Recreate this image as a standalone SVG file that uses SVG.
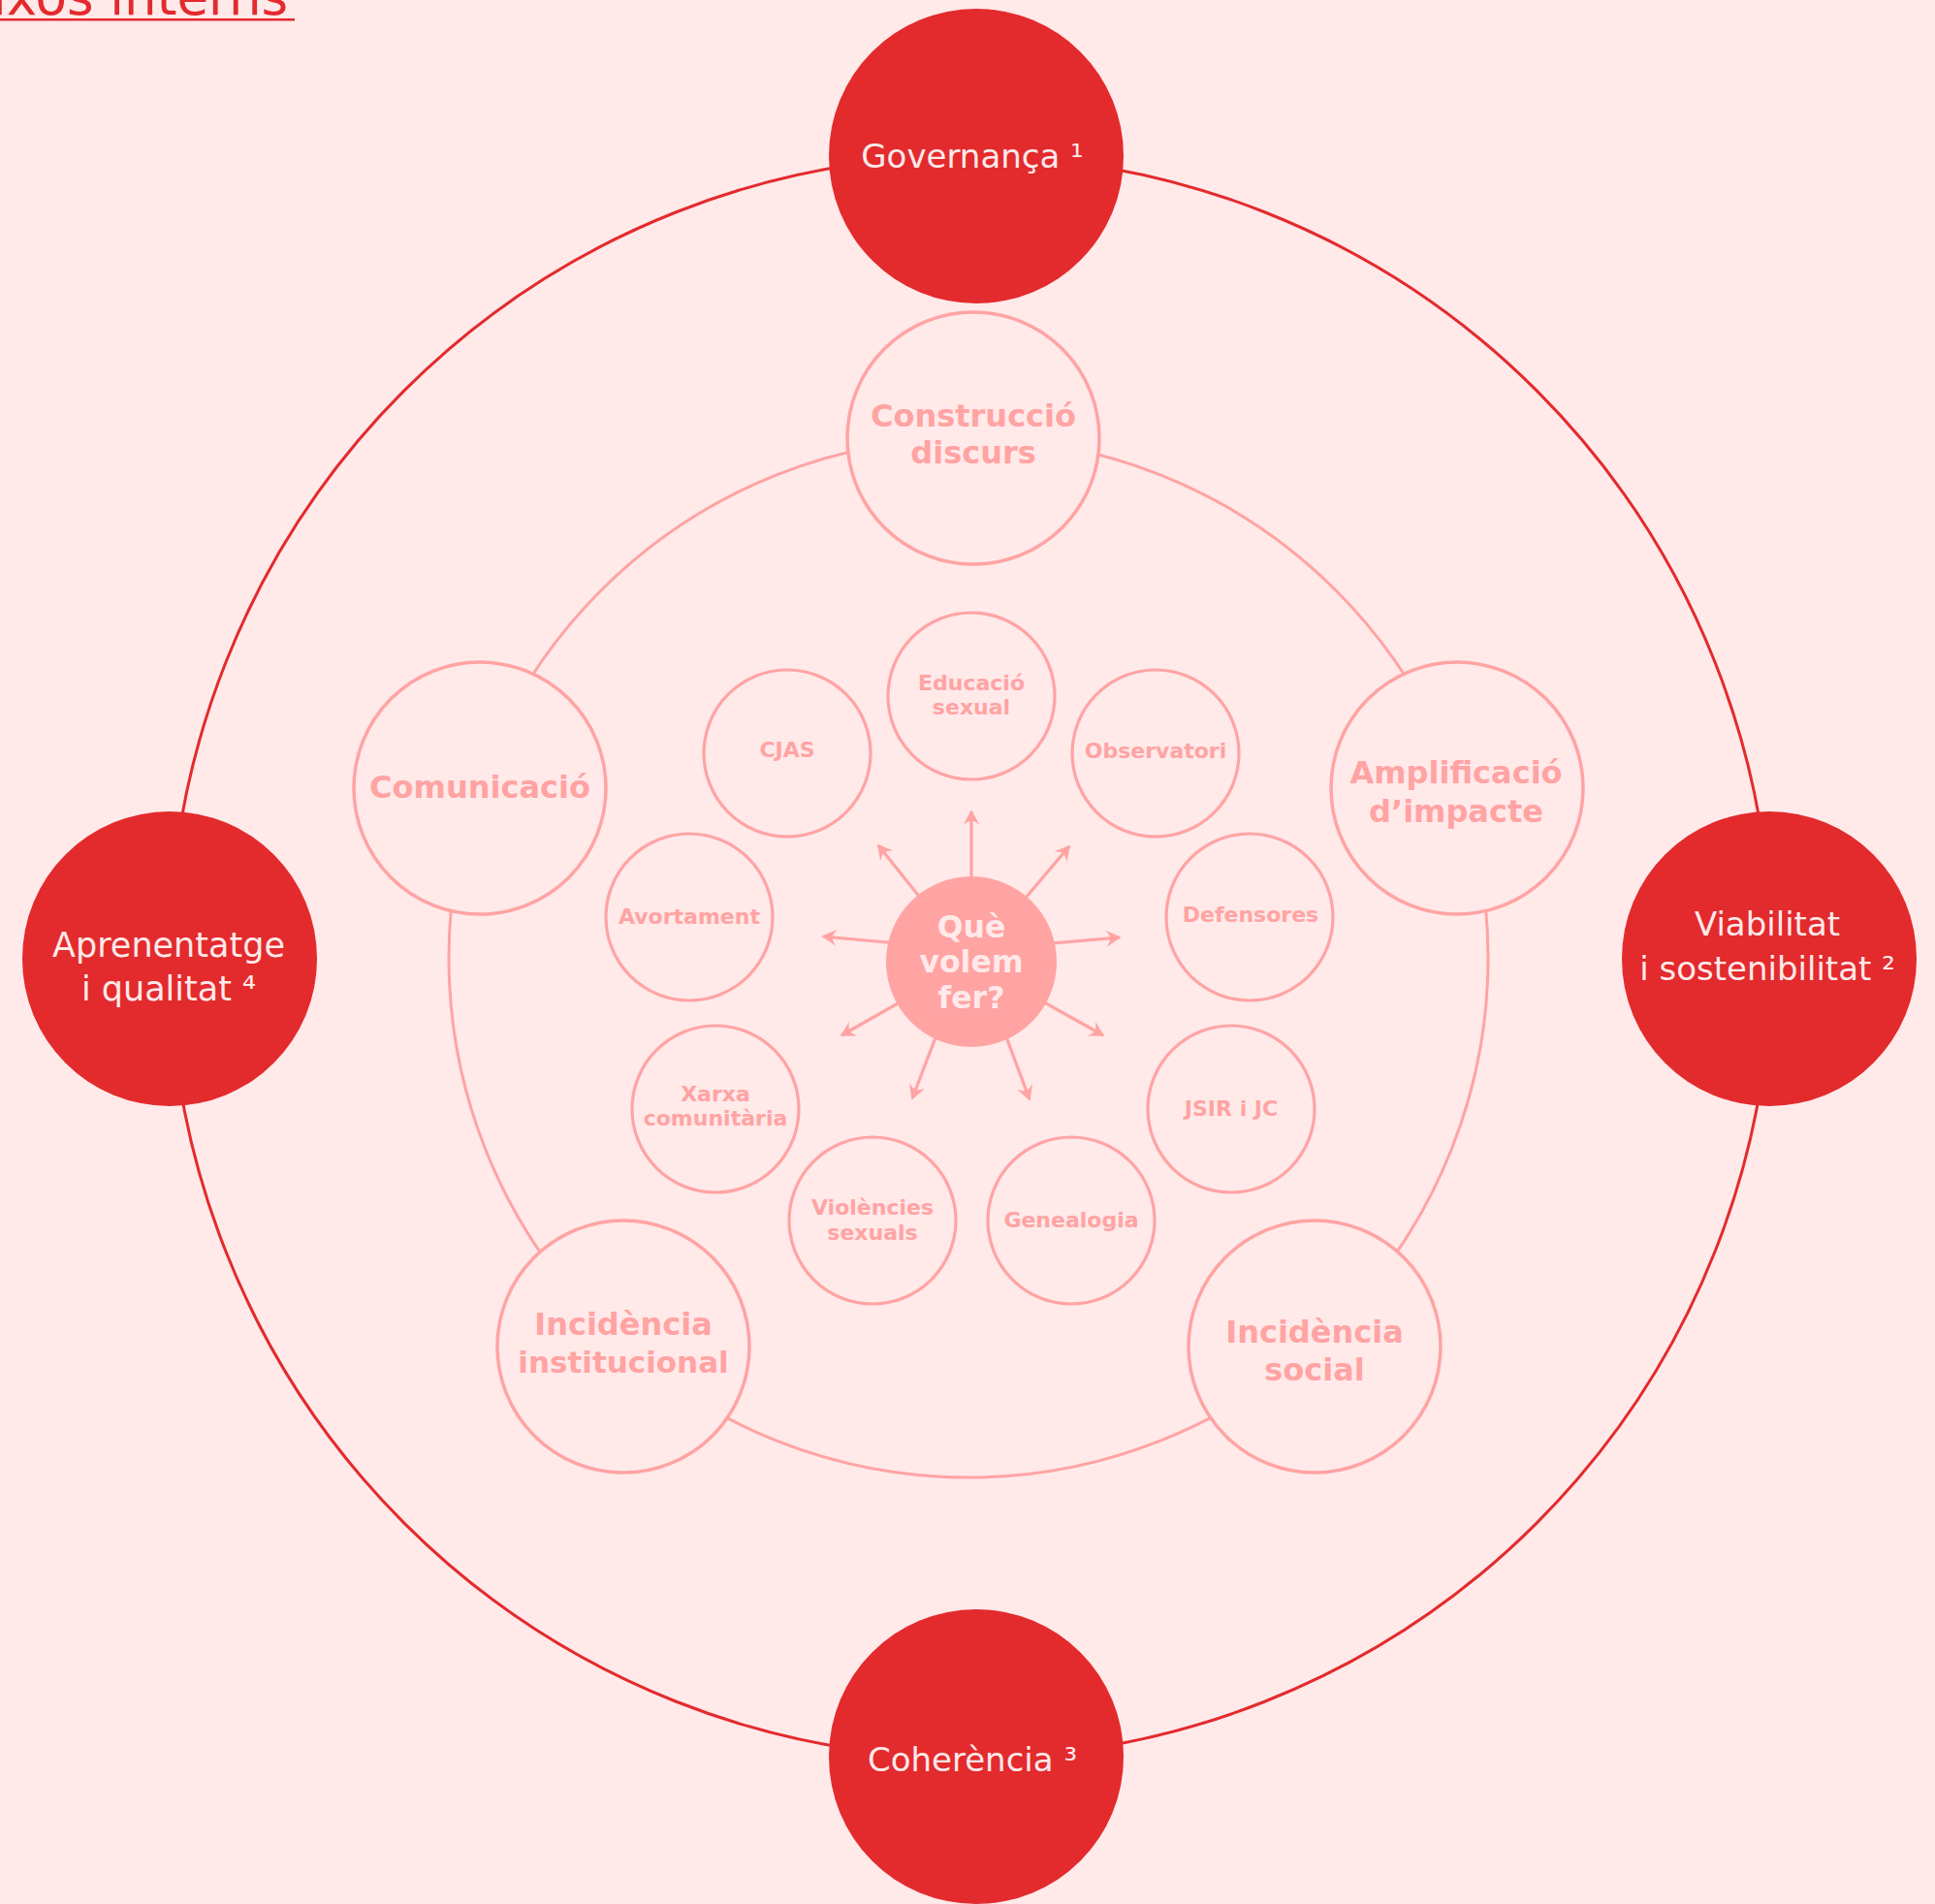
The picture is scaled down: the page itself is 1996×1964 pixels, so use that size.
<svg xmlns="http://www.w3.org/2000/svg" width="1996" height="1964" viewBox="0 0 1996 1964">
<style>
.bg{fill:#ffe9e9}
.ring-out{fill:none;stroke:#e32a2d;stroke-width:3}
.ring-mid{fill:none;stroke:#ffa3a3;stroke-width:3}
.red{fill:#e32a2d}
.med{fill:#ffe9e9;stroke:#ffa3a3;stroke-width:3.5}
.sml{fill:#ffe9e9;stroke:#ffa3a3;stroke-width:3.2}
.ctr{fill:#ffa3a3}
.arrow{stroke:#ffa3a3;stroke-width:3.2;fill:none}
.tw{font-family:"DejaVu Sans","Liberation Sans",sans-serif;font-size:34px;fill:#ffe9e9;text-anchor:middle}
.tm{font-family:"DejaVu Sans","Liberation Sans",sans-serif;font-size:32px;font-weight:bold;fill:#ffa3a3;text-anchor:middle}
.ts{font-family:"DejaVu Sans","Liberation Sans",sans-serif;font-size:22px;font-weight:bold;fill:#ffa3a3;text-anchor:middle}
.tc{font-family:"DejaVu Sans","Liberation Sans",sans-serif;font-size:31.5px;font-weight:bold;fill:#ffe9e9;text-anchor:middle}
.title{font-family:"DejaVu Sans","Liberation Sans",sans-serif;font-size:53px;fill:#e32a2d}
</style>
<defs>
<marker id="ah" viewBox="-16 -10 18 20" markerWidth="18" markerHeight="20" refX="0" refY="0" orient="auto" markerUnits="userSpaceOnUse">
<path d="M1.5,0 L-14,-8.5 Q-9,-2 -10,0 Q-9,2 -14,8.5 Z" fill="#ffa3a3"/>
</marker>
</defs>
<rect class="bg" x="0" y="0" width="1996" height="1964"/>
<g id="title">
<text class="title" x="-8" y="15">ixos interns</text>
<rect x="0" y="19" width="304" height="2.5" fill="#e32a2d"/>
</g>
<g id="connectors">
<circle class="ring-out" cx="1001" cy="987" r="826"/>
<circle class="ring-mid" cx="999" cy="988" r="536"/>
<line class="arrow" x1="1002" y1="992" x2="1002" y2="837" marker-end="url(#ah)"/>
<line class="arrow" x1="1002" y1="992" x2="906" y2="872" marker-end="url(#ah)"/>
<line class="arrow" x1="1002" y1="992" x2="1103" y2="873" marker-end="url(#ah)"/>
<line class="arrow" x1="1002" y1="980" x2="849" y2="966" marker-end="url(#ah)"/>
<line class="arrow" x1="1002" y1="980" x2="1155" y2="967" marker-end="url(#ah)"/>
<line class="arrow" x1="1002" y1="992" x2="868" y2="1068" marker-end="url(#ah)"/>
<line class="arrow" x1="1002" y1="992" x2="1138" y2="1068" marker-end="url(#ah)"/>
<line class="arrow" x1="995" y1="992" x2="941" y2="1133" marker-end="url(#ah)"/>
<line class="arrow" x1="1009" y1="992" x2="1062" y2="1134" marker-end="url(#ah)"/>
</g>
<g id="node-governanca">
<circle class="red" cx="1007" cy="161" r="152"/>
<text class="tw" x="1003" y="173">Governança ¹</text>
</g>
<g id="node-viabilitat">
<circle class="red" cx="1825" cy="989" r="152"/>
<text class="tw" x="1823" y="965">Viabilitat</text>
<text class="tw" x="1823" y="1011">i sostenibilitat ²</text>
</g>
<g id="node-coherencia">
<circle class="red" cx="1007" cy="1812" r="152"/>
<text class="tw" x="1003" y="1827">Coherència ³</text>
</g>
<g id="node-aprenentatge">
<circle class="red" cx="175" cy="989" r="152"/>
<text class="tw" x="174" y="987" style="font-size:35px">Aprenentatge</text>
<text class="tw" x="174" y="1032" style="font-size:35px">i qualitat ⁴</text>
</g>
<g id="node-construccio">
<circle class="med" cx="1004" cy="452" r="130"/>
<text class="tm" x="1004" y="440">Construcció</text>
<text class="tm" x="1004" y="478">discurs</text>
</g>
<g id="node-comunicacio">
<circle class="med" cx="495" cy="813" r="130"/>
<text class="tm" x="495" y="823">Comunicació</text>
</g>
<g id="node-amplificacio">
<circle class="med" cx="1503" cy="813" r="130"/>
<text class="tm" x="1502" y="808">Amplificació</text>
<text class="tm" x="1502" y="848">d’impacte</text>
</g>
<g id="node-incidencia-institucional">
<circle class="med" cx="643" cy="1389" r="130"/>
<text class="tm" x="643" y="1377">Incidència</text>
<text class="tm" x="643" y="1416" style="font-size:31px">institucional</text>
</g>
<g id="node-incidencia-social">
<circle class="med" cx="1356" cy="1389" r="130"/>
<text class="tm" x="1356" y="1385">Incidència</text>
<text class="tm" x="1356" y="1424">social</text>
</g>
<g id="node-cjas">
<circle class="sml" cx="812" cy="777" r="86"/>
<text class="ts" x="812" y="781">CJAS</text>
</g>
<g id="node-educacio">
<circle class="sml" cx="1002" cy="718" r="86"/>
<text class="ts" x="1002" y="712">Educació</text>
<text class="ts" x="1002" y="737">sexual</text>
</g>
<g id="node-observatori">
<circle class="sml" cx="1192" cy="777" r="86"/>
<text class="ts" x="1192" y="782">Observatori</text>
</g>
<g id="node-avortament">
<circle class="sml" cx="711" cy="946" r="86"/>
<text class="ts" x="711" y="953">Avortament</text>
</g>
<g id="node-defensores">
<circle class="sml" cx="1289" cy="946" r="86"/>
<text class="ts" x="1290" y="951">Defensores</text>
</g>
<g id="node-xarxa">
<circle class="sml" cx="738" cy="1144" r="86"/>
<text class="ts" x="738" y="1136">Xarxa</text>
<text class="ts" x="738" y="1161">comunitària</text>
</g>
<g id="node-jsir">
<circle class="sml" cx="1270" cy="1144" r="86"/>
<text class="ts" x="1270" y="1151">JSIR i JC</text>
</g>
<g id="node-violencies">
<circle class="sml" cx="900" cy="1259" r="86"/>
<text class="ts" x="900" y="1253">Violències</text>
<text class="ts" x="900" y="1279">sexuals</text>
</g>
<g id="node-genealogia">
<circle class="sml" cx="1105" cy="1259" r="86"/>
<text class="ts" x="1105" y="1266">Genealogia</text>
</g>
<g id="node-que-volem-fer">
<circle class="ctr" cx="1002" cy="992" r="88"/>
<text class="tc" x="1002" y="967">Què</text>
<text class="tc" x="1002" y="1003">volem</text>
<text class="tc" x="1002" y="1040">fer?</text>
</g>
</svg>
